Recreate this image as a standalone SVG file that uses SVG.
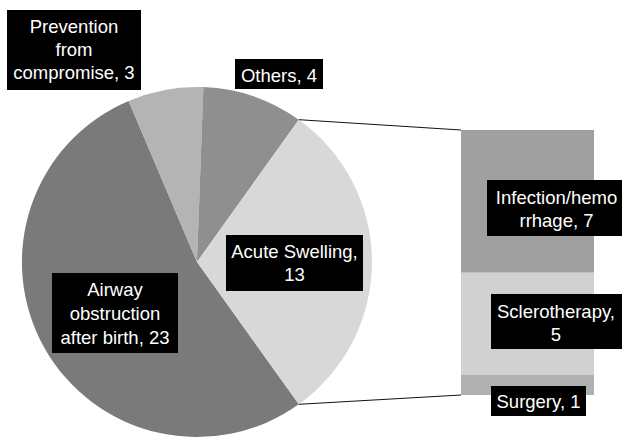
<svg xmlns="http://www.w3.org/2000/svg" width="622" height="438" viewBox="0 0 622 438">
<style>
.lbl{fill:#000}
.t{font-family:"Liberation Sans",Arial,sans-serif;font-size:18.5px;fill:#fff;text-anchor:middle}
.conn{stroke:#111;stroke-width:1;fill:none}
</style>
<rect width="622" height="438" fill="#fff"/>
<g id="slice-airway">
<path d="M197,262 L298.8,404.3 A175,175 0 1,1 128.6,100.9 Z" fill="#7a7a7a"/>
</g>
<g id="slice-prevention">
<path d="M197,262 L128.6,100.9 A175,175 0 0,1 203.4,87.1 Z" fill="#b4b4b4"/>
</g>
<g id="slice-others">
<path d="M197,262 L203.4,87.1 A175,175 0 0,1 298.8,119.7 Z" fill="#8f8f8f"/>
</g>
<g id="slice-acute">
<path d="M197,262 L298.8,119.7 A175,175 0 0,1 298.8,404.3 Z" fill="#d8d8d8"/>
</g>
<g id="bar-infection"><rect x="461" y="130" width="133" height="142.7" fill="#a0a0a0"/></g>
<g id="bar-sclerotherapy"><rect x="461" y="272.7" width="133" height="101.9" fill="#d1d1d1"/></g>
<g id="bar-surgery"><rect x="461" y="374.6" width="133" height="20.4" fill="#b0b0b0"/></g>
<g id="connectors">
<line class="conn" x1="298.8" y1="119.7" x2="461" y2="130"/>
<line class="conn" x1="298.8" y1="404.3" x2="461" y2="395"/>
</g>
<g id="label-prevention">
<rect class="lbl" x="7" y="10" width="134" height="80"/>
<text class="t" x="74" y="32.5">Prevention</text>
<text class="t" x="74" y="55.5">from</text>
<text class="t" x="74" y="78.5">compromise, 3</text>
</g>
<g id="label-others">
<rect class="lbl" x="235" y="59" width="88" height="30"/>
<text class="t" x="279" y="81.5">Others, 4</text>
</g>
<g id="label-acute">
<rect class="lbl" x="226" y="235" width="137" height="56"/>
<text class="t" x="294.5" y="257.5">Acute Swelling,</text>
<text class="t" x="294.5" y="281">13</text>
</g>
<g id="label-airway">
<rect class="lbl" x="52" y="273" width="126" height="80"/>
<text class="t" x="115" y="296">Airway</text>
<text class="t" x="115" y="320">obstruction</text>
<text class="t" x="115" y="344">after birth, 23</text>
</g>
<g id="label-infection">
<rect class="lbl" x="487" y="180" width="139" height="56"/>
<text class="t" x="556.5" y="204">Infection/hemo</text>
<text class="t" x="556.5" y="227">rrhage, 7</text>
</g>
<g id="label-sclerotherapy">
<rect class="lbl" x="491" y="294" width="131" height="55"/>
<text class="t" x="556" y="317.5">Sclerotherapy,</text>
<text class="t" x="556" y="341">5</text>
</g>
<g id="label-surgery">
<rect class="lbl" x="491" y="386" width="95" height="30"/>
<text class="t" x="538.5" y="408">Surgery, 1</text>
</g>
</svg>
